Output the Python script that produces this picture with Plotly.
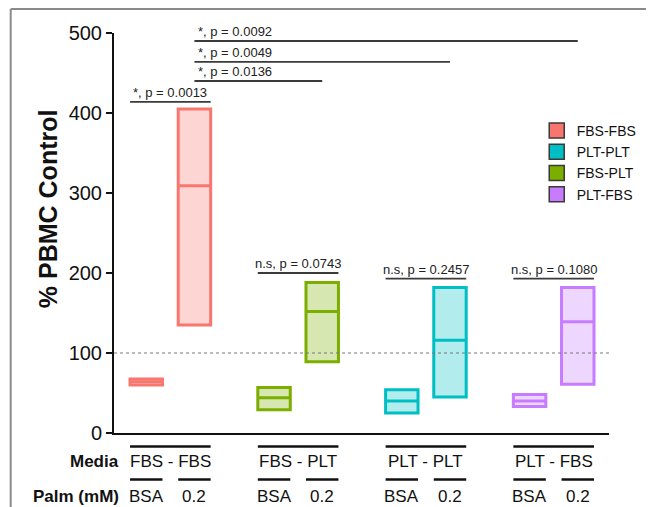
import plotly.graph_objects as go

# ---------------- data ----------------
groups = ["FBS - FBS", "FBS - PLT", "PLT - PLT", "PLT - FBS"]
legend_names = ["FBS-FBS", "FBS-PLT", "PLT-PLT", "PLT-FBS"]
legend_order = [0, 2, 1, 3]
palm_labels = ["BSA", "0.2"]

bsa_min = [60, 29, 25, 33]
bsa_max = [67.5, 57, 54, 48]
bsa_mean = [64, 44, 40, 40]
palm_min = [135, 89, 45, 61]
palm_max = [405, 188, 182, 182]
palm_mean = [309, 152, 116, 139]

# comparisons BSA vs 0.2 inside each group
within_labels = ["*, p = 0.0013", "n.s, p = 0.0743", "n.s, p = 0.2457", "n.s, p = 0.1080"]
within_y = [414, 200, 193, 193]
# comparisons FBS-FBS 0.2 vs other groups' 0.2
cross_labels = ["*, p = 0.0136", "*, p = 0.0049", "*, p = 0.0092"]
cross_target = [1, 2, 3]
cross_y = [440, 464, 490]

y_ticks = [0, 100, 200, 300, 400, 500]
reference_level = 100

# ---------------- style ----------------
colors = ["#F8766D", "#7CAE00", "#00BFC4", "#C77CFF"]
fills = ["rgba(248,118,109,0.30)", "rgba(124,174,0,0.30)",
         "rgba(0,191,196,0.30)", "rgba(199,124,255,0.30)"]
FONT = "Liberation Sans, Arial, sans-serif"
DARK = "#3a3a3a"
OFF = 0.1885
W = 0.254
LW = 3

fig = go.Figure()
centers = [i + 1 for i in range(len(groups))]

for i, g in enumerate(centers):
    xs = [g - OFF, g + OFF]
    fig.add_trace(go.Bar(
        x=xs, base=[bsa_min[i], palm_min[i]],
        y=[bsa_max[i] - bsa_min[i], palm_max[i] - palm_min[i]],
        width=W, marker=dict(color=fills[i], line=dict(color=colors[i], width=LW)),
        showlegend=False, hoverinfo="skip"))
    fig.add_trace(go.Scatter(
        x=[xs[0] - W / 2, xs[0] + W / 2, None, xs[1] - W / 2, xs[1] + W / 2],
        y=[bsa_mean[i], bsa_mean[i], None, palm_mean[i], palm_mean[i]],
        mode="lines", line=dict(color=colors[i], width=LW),
        showlegend=False, hoverinfo="skip"))

# legend entries
for i in legend_order:
    fig.add_trace(go.Scatter(
        x=[None], y=[None], mode="markers", name=legend_names[i],
        marker=dict(symbol="square", size=15, color=colors[i],
                    line=dict(color=DARK, width=1.5))))

annotations = []
shapes = []

# within-group brackets
for i, g in enumerate(centers):
    x0, x1 = g - OFF - W / 2, g + OFF + W / 2
    fig.add_trace(go.Scatter(x=[x0, x1], y=[within_y[i], within_y[i]], mode="lines",
                             line=dict(color=DARK, width=1.8), showlegend=False,
                             hoverinfo="skip"))
    annotations.append(dict(x=(x0 + x1) / 2, y=within_y[i], xref="x", yref="y",
                            text=within_labels[i], showarrow=False, yanchor="bottom",
                            xanchor="center", yshift=0,
                            font=dict(size=13, color="#222", family=FONT)))

# cross-group brackets
start = centers[0] + OFF
for k, t in enumerate(cross_target):
    x1 = centers[t] + OFF
    fig.add_trace(go.Scatter(x=[start, x1], y=[cross_y[k], cross_y[k]], mode="lines",
                             line=dict(color=DARK, width=1.8), showlegend=False,
                             hoverinfo="skip"))
    annotations.append(dict(x=start, y=cross_y[k], xref="x", yref="y",
                            text=cross_labels[k], showarrow=False, yanchor="bottom",
                            xanchor="left", xshift=2, yshift=0,
                            font=dict(size=13, color="#222", family=FONT)))

# reference dotted line
shapes.append(dict(type="line", xref="paper", yref="y", x0=0, x1=1,
                   y0=reference_level, y1=reference_level,
                   line=dict(color="#777", width=1, dash="dot")))

# bottom table
Y_GLINE, Y_GLAB, Y_SLINE, Y_SLAB = -0.034, -0.072, -0.116, -0.158
for i, g in enumerate(centers):
    shapes.append(dict(type="line", xref="x", yref="paper",
                       x0=g - OFF - W / 2, x1=g + OFF + W / 2, y0=Y_GLINE, y1=Y_GLINE,
                       line=dict(color="#111", width=2.5)))
    annotations.append(dict(x=g, y=Y_GLAB, xref="x", yref="paper", text=groups[i],
                            showarrow=False, xanchor="center", yanchor="middle",
                            font=dict(size=17, color="#111", family=FONT)))
    for j, xc in enumerate([g - OFF, g + OFF]):
        shapes.append(dict(type="line", xref="x", yref="paper",
                           x0=xc - W / 2, x1=xc + W / 2, y0=Y_SLINE, y1=Y_SLINE,
                           line=dict(color="#111", width=2.5)))
        annotations.append(dict(x=xc, y=Y_SLAB, xref="x", yref="paper",
                                text=palm_labels[j], showarrow=False, xanchor="center",
                                yanchor="middle",
                                font=dict(size=17, color="#111", family=FONT)))

annotations.append(dict(x=0.014, y=Y_GLAB, xref="paper", yref="paper", text="<b>Media</b>",
                        showarrow=False, xanchor="right", yanchor="middle",
                        font=dict(size=17, color="#111", family=FONT)))
annotations.append(dict(x=0.014, y=Y_SLAB, xref="paper", yref="paper",
                        text="<b>Palm (mM)</b>", showarrow=False, xanchor="right",
                        yanchor="middle", font=dict(size=17, color="#111", family=FONT)))

# y-axis title
annotations.append(dict(x=-0.133, y=0.56, xref="paper", yref="paper",
                        text="<b>% PBMC Control</b>", showarrow=False, textangle=-90,
                        xanchor="center", yanchor="middle",
                        font=dict(size=25, color="#111", family=FONT)))

# image frame (left and top)
shapes.append(dict(type="line", xref="paper", yref="paper", x0=-0.2087, x1=-0.2087,
                   y0=-0.3, y1=1.06, line=dict(color="#8a8a8a", width=2)))
shapes.append(dict(type="line", xref="paper", yref="paper", x0=-0.2087, x1=1.2,
                   y0=1.06, y1=1.06, line=dict(color="#8a8a8a", width=2)))

fig.update_layout(
    width=646, height=499,
    margin=dict(l=106, r=37, t=25, b=74),
    paper_bgcolor="white", plot_bgcolor="white",
    barmode="overlay",
    font=dict(family=FONT, color="#111"),
    xaxis=dict(range=[0.559, 4.433], showgrid=False, zeroline=False,
               showticklabels=False, ticks="", showline=True,
               linecolor="#111", linewidth=2),
    yaxis=dict(range=[0, 500], tickvals=y_ticks, showgrid=False, zeroline=False,
               showline=True, linecolor="#111", linewidth=2, ticks="outside",
               ticklen=6, tickwidth=1.5, tickcolor="#111",
               tickfont=dict(size=20, color="#111", family=FONT)),
    legend=dict(x=0.854, y=0.795, xanchor="left", yanchor="top",
                font=dict(size=14, color="#111", family=FONT),
                bgcolor="rgba(0,0,0,0)", tracegroupgap=0, itemwidth=30),
    shapes=shapes, annotations=annotations,
)

fig.write_html("out.html")
